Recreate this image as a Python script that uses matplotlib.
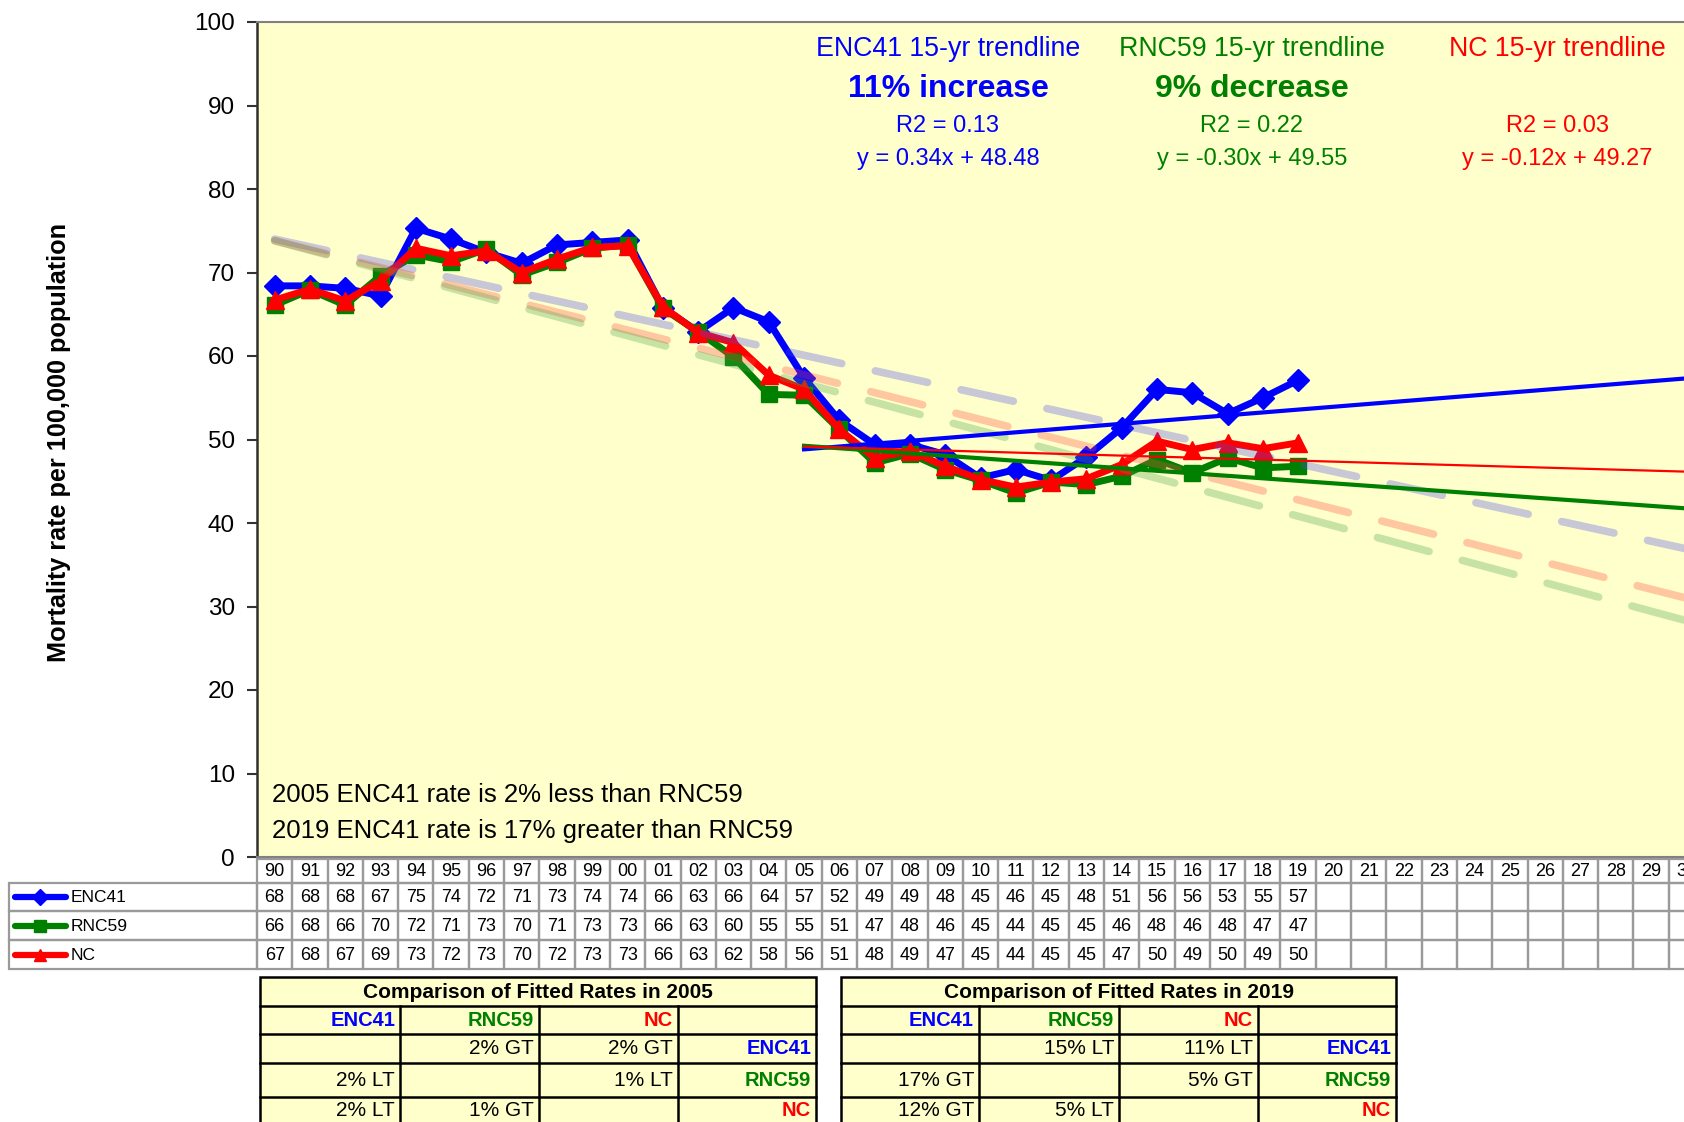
import numpy as np
import matplotlib.pyplot as plt
from matplotlib.patches import Rectangle

plt.rcParams['font.family'] = ['Liberation Sans', 'DejaVu Sans']

W, H = 1684, 1122

# categories (1990 - 2030)
years = ['90', '91', '92', '93', '94', '95', '96', '97', '98', '99',
         '00', '01', '02', '03', '04', '05', '06', '07', '08', '09',
         '10', '11', '12', '13', '14', '15', '16', '17', '18', '19',
         '20', '21', '22', '23', '24', '25', '26', '27', '28', '29', '30']

# mortality rate per 100,000, 1990-2019
enc41 = [68.4, 68.4, 68.1, 67.2, 75.3, 74.0, 72.4, 71.1, 73.3, 73.6,
         73.9, 65.8, 62.9, 65.8, 64.1, 57.4, 52.3, 49.4, 49.4, 48.2,
         45.4, 46.4, 45.1, 47.9, 51.4, 56.0, 55.6, 53.1, 55.0, 57.1]
rnc59 = [66.1, 67.9, 66.1, 69.6, 72.1, 71.3, 72.8, 69.7, 71.2, 72.9,
         73.3, 65.7, 62.9, 59.9, 55.4, 55.3, 51.2, 47.2, 48.3, 46.4,
         45.1, 43.6, 44.9, 44.6, 45.6, 47.6, 46.0, 47.8, 46.6, 46.8]
nc = [66.7, 68.0, 66.6, 69.0, 72.9, 72.0, 72.6, 70.0, 71.6, 73.0,
      73.2, 65.9, 62.8, 61.6, 57.7, 56.0, 51.2, 47.8, 48.6, 46.8,
      45.2, 44.3, 44.9, 45.3, 47.0, 49.8, 48.8, 49.6, 48.9, 49.6]

names = ['ENC41', 'RNC59', 'NC']
colors = ['#0000FF', '#008000', '#FF0000']
markers = ['D', 's', '^']

# 15-yr trendlines (2005-2019, x=1 in 2005), forecast to 2030
trend_slope = [0.34, -0.30, -0.12]
trend_icpt = [48.48, 49.55, 49.27]
trend_x = [1, 26]
# long-range (1990-) trendlines, values at 1990 and 2030
long_start = [74.0, 73.8, 73.8]
long_end = [36.9, 31.0, 28.3]
long_colors = [(70/255, 70/255, 240/255), (1.0, 72/255, 57/255), (72/255, 165/255, 74/255)]

fig = plt.figure(figsize=(W / 100, H / 100), dpi=100)
fig.patch.set_facecolor('white')


def fx(px):
    return px / W


def fy(py):
    return 1 - py / H


# plot area (runs past right edge of the picture like the original)
x0, x1, y0, y1 = 257, 1704, 22, 857
cellw = (x1 - x0) / len(years)
ax = fig.add_axes([fx(x0), fy(y1), (x1 - x0) / W, (y1 - y0) / H])
ax.set_facecolor('#FFFFCC')
ax.set_xlim(-0.5, len(years) - 0.5)
ax.set_ylim(0, 100)
ax.set_yticks(range(0, 101, 10))
ax.set_xticks([])
ax.tick_params(axis='y', labelsize=17.5, length=7, width=1.5, pad=9, color='#333333')
ax.spines['left'].set_color('#303030')
ax.spines['left'].set_linewidth(1.8)
for s in ['top', 'bottom']:
    ax.spines[s].set_color('#808080')
    ax.spines[s].set_linewidth(1.5)
ax.spines['right'].set_visible(False)

idx = np.arange(len(enc41))
for vals, c, m, ms in zip([enc41, rnc59, nc], colors, markers, [11.5, 11.5, 13]):
    ax.plot(idx, vals, color=c, lw=5, marker=m, ms=ms, zorder=3, solid_joinstyle='round')

for s, e, c in zip(long_start, long_end, long_colors):
    ax.plot([0, len(years) - 1], [s, e], color=c, alpha=0.3, lw=5.5,
            dashes=(7, 4.5), dash_capstyle='round', zorder=4)

tx = np.array(trend_x)
for sl, ic, c, lw in zip(trend_slope, trend_icpt, colors, [3.0, 3.0, 1.6]):
    ax.plot(tx + 14, sl * tx + ic, color=c, lw=lw, zorder=5)

fig.text(fx(59), fy(442), 'Mortality rate per 100,000 population', rotation=90,
         ha='center', va='center', fontsize=18.2, fontweight='bold')

# trendline notes
blocks = [
    (948, 'ENC41 15-yr trendline', '11% increase', 'R2 = 0.13', 'y = 0.34x + 48.48', colors[0]),
    (1252, 'RNC59 15-yr trendline', '9% decrease', 'R2 = 0.22', 'y = -0.30x + 49.55', colors[1]),
    (1557, 'NC 15-yr trendline', '', 'R2 = 0.03', 'y = -0.12x + 49.27', colors[2]),
]
for cx, t1, t2, t3, t4, c in blocks:
    fig.text(fx(cx), fy(49), t1, color=c, fontsize=19.3, ha='center', va='center')
    if t2:
        fig.text(fx(cx), fy(89), t2, color=c, fontsize=23, fontweight='bold', ha='center', va='center')
    fig.text(fx(cx), fy(126), t3, color=c, fontsize=17, ha='center', va='center')
    fig.text(fx(cx), fy(159), t4, color=c, fontsize=17, ha='center', va='center')

fig.text(fx(272), fy(795), '2005 ENC41 rate is 2% less than RNC59', fontsize=18.5, va='center')
fig.text(fx(272), fy(831), '2019 ENC41 rate is 17% greater than RNC59', fontsize=18.5, va='center')

# data table under the axis
tab_left = 9
row_edges = [859, 883, 911, 940, 969]
tab = fig.add_axes([fx(tab_left), fy(row_edges[-1]), (x1 - tab_left) / W,
                    (row_edges[-1] - row_edges[0]) / H])
tab.set_xlim(-0.5 - (x0 - tab_left) / cellw, len(years) - 0.5)
tab.set_ylim(row_edges[-1], row_edges[0])
tab.axis('off')
grid_c = '#9A9A9A'
for i, yr in enumerate(years):
    tab.add_patch(Rectangle((i - 0.5, row_edges[0]), 1, row_edges[1] - row_edges[0],
                            fill=False, ec=grid_c, lw=1.6, clip_on=False))
    tab.text(i, (row_edges[0] + row_edges[1]) / 2 + 1, yr, ha='center', va='center', fontsize=13)
xl = -0.5 - (x0 - tab_left) / cellw
for r, (vals, nm, c, m) in enumerate(zip([enc41, rnc59, nc], names, colors, markers)):
    top, bot = row_edges[r + 1], row_edges[r + 2]
    cy = (top + bot) / 2
    tab.add_patch(Rectangle((xl, top), -0.5 - xl, bot - top, fill=False, ec=grid_c, lw=1.6, clip_on=False))
    k0 = xl + (15 - tab_left) / cellw
    k1 = xl + (66 - tab_left) / cellw
    tab.plot([k0, k1], [cy, cy], color=c, lw=4.5, solid_capstyle='round', clip_on=False)
    tab.plot([(k0 + k1) / 2], [cy], color=c, marker=m, ms=8, clip_on=False)
    tab.text(k1 + 0.12, cy + 1, nm, ha='left', va='center', fontsize=12.5)
    for i in range(len(years)):
        tab.add_patch(Rectangle((i - 0.5, top), 1, bot - top, fill=False, ec=grid_c, lw=1.6, clip_on=False))
        if i < len(vals):
            tab.text(i, cy + 1, f"{vals[i]:.0f}", ha='center', va='center', fontsize=13)

# comparison tables
ov = fig.add_axes([0, 0, 1, 1])
ov.set_xlim(0, W)
ov.set_ylim(H, 0)
ov.axis('off')

cmp_titles = ['Comparison of Fitted Rates in 2005', 'Comparison of Fitted Rates in 2019']
cmp_cells = [
    [['', '2% GT', '2% GT'], ['2% LT', '', '1% LT'], ['2% LT', '1% GT', '']],
    [['', '15% LT', '11% LT'], ['17% GT', '', '5% GT'], ['12% GT', '5% LT', '']],
]
cmp_cols = [[260, 400, 539, 678, 816], [841, 979, 1119, 1258, 1396]]
cmp_rows = [977, 1006, 1034, 1063, 1097, 1140]
text_y = [992, 1021, 1049, 1080, 1111]

for title, cells, cols in zip(cmp_titles, cmp_cells, cmp_cols):
    ov.add_patch(Rectangle((cols[0], cmp_rows[0]), cols[-1] - cols[0], cmp_rows[-1] - cmp_rows[0],
                           fc='#FFFFCC', ec='black', lw=1.8))
    for ry in cmp_rows[1:-1]:
        ov.plot([cols[0], cols[-1]], [ry, ry], color='black', lw=1.8)
    for cxp in cols[1:-1]:
        ov.plot([cxp, cxp], [cmp_rows[1], cmp_rows[-1]], color='black', lw=1.8)
    ov.text((cols[0] + cols[-1]) / 2, text_y[0], title, ha='center', va='center',
            fontsize=15, fontweight='bold')
    for j, (nm, c) in enumerate(zip(names, colors)):
        ov.text(cols[j + 1] - 5, text_y[1], nm, color=c, ha='right', va='center',
                fontsize=14.5, fontweight='bold')
        ov.text(cols[4] - 5, text_y[2 + j], nm, color=c, ha='right', va='center',
                fontsize=14.5, fontweight='bold')
        for k in range(3):
            if cells[j][k]:
                ov.text(cols[k + 1] - 5, text_y[2 + j], cells[j][k], ha='right', va='center', fontsize=15)

fig.savefig('out.png', dpi=100)
